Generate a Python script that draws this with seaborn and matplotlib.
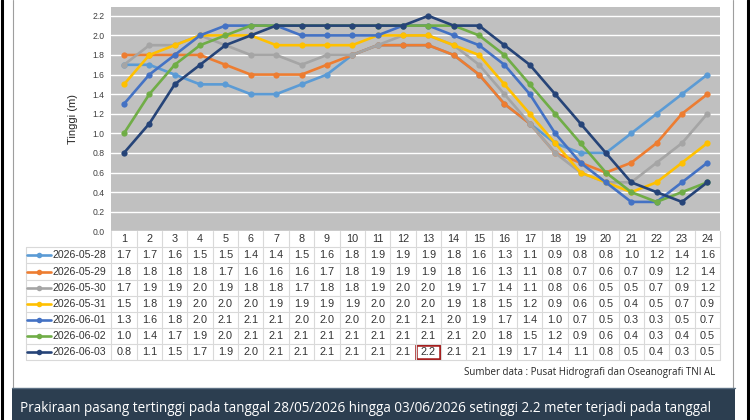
import matplotlib
matplotlib.use("Agg")
import matplotlib.pyplot as plt
from matplotlib.patches import Rectangle
from matplotlib.lines import Line2D
import numpy as np
import pandas as pd
import seaborn as sns

hours = list(range(1, 25))
dates = ["2026-05-28", "2026-05-29", "2026-05-30", "2026-05-31",
         "2026-06-01", "2026-06-02", "2026-06-03"]
d0528 = [1.7, 1.7, 1.6, 1.5, 1.5, 1.4, 1.4, 1.5, 1.6, 1.8, 1.9, 1.9, 1.9, 1.8, 1.6, 1.3, 1.1, 0.9, 0.8, 0.8, 1.0, 1.2, 1.4, 1.6]
d0529 = [1.8, 1.8, 1.8, 1.8, 1.7, 1.6, 1.6, 1.6, 1.7, 1.8, 1.9, 1.9, 1.9, 1.8, 1.6, 1.3, 1.1, 0.8, 0.7, 0.6, 0.7, 0.9, 1.2, 1.4]
d0530 = [1.7, 1.9, 1.9, 2.0, 1.9, 1.8, 1.8, 1.7, 1.8, 1.8, 1.9, 2.0, 2.0, 1.9, 1.7, 1.4, 1.1, 0.8, 0.6, 0.5, 0.5, 0.7, 0.9, 1.2]
d0531 = [1.5, 1.8, 1.9, 2.0, 2.0, 2.0, 1.9, 1.9, 1.9, 1.9, 2.0, 2.0, 2.0, 1.9, 1.8, 1.5, 1.2, 0.9, 0.6, 0.5, 0.4, 0.5, 0.7, 0.9]
d0601 = [1.3, 1.6, 1.8, 2.0, 2.1, 2.1, 2.1, 2.0, 2.0, 2.0, 2.0, 2.1, 2.1, 2.0, 1.9, 1.7, 1.4, 1.0, 0.7, 0.5, 0.3, 0.3, 0.5, 0.7]
d0602 = [1.0, 1.4, 1.7, 1.9, 2.0, 2.1, 2.1, 2.1, 2.1, 2.1, 2.1, 2.1, 2.1, 2.1, 2.0, 1.8, 1.5, 1.2, 0.9, 0.6, 0.4, 0.3, 0.4, 0.5]
d0603 = [0.8, 1.1, 1.5, 1.7, 1.9, 2.0, 2.1, 2.1, 2.1, 2.1, 2.1, 2.1, 2.2, 2.1, 2.1, 1.9, 1.7, 1.4, 1.1, 0.8, 0.5, 0.4, 0.3, 0.5]
series = [d0528, d0529, d0530, d0531, d0601, d0602, d0603]
colors = ["#5B9BD5", "#ED7D31", "#A5A5A5", "#FFC000", "#4472C4", "#70AD47", "#264478"]

source = "Sumber data : Pusat Hidrografi dan Oseanografi TNI AL"
caption = ("Prakiraan pasang tertinggi pada tanggal 28/05/2026 hingga 03/06/2026 "
           "setinggi 2.2 meter terjadi pada tanggal")

df = pd.DataFrame({
    "jam": hours * len(dates),
    "tinggi": [v for s in series for v in s],
    "tanggal": [d for d in dates for _ in hours],
})

sns.set_theme(style="white")
plt.rcParams["font.family"] = ["Liberation Sans", "DejaVu Sans"]

W, H = 750, 420
fig = plt.figure(figsize=(7.5, 4.2), dpi=100)
fig.patch.set_facecolor("white")

def box(x0, y0, x1, y1):
    # pixel box (top-left origin) -> figure fraction rect
    return [x0 / W, 1 - y1 / H, (x1 - x0) / W, (y1 - y0) / H]

# chart
ax = fig.add_axes(box(111.3, 7, 720, 231.3))
ax.set_facecolor("#C0C0C0")
sns.lineplot(data=df, x="jam", y="tinggi", hue="tanggal", palette=colors,
             marker="o", markersize=4.5, markeredgewidth=0, linewidth=1.9,
             legend=False, ax=ax)
ax.set_xlim(0.5, 24.5)
ax.set_ylim(0, 2.29)
ax.set_yticks(np.arange(0, 2.21, 0.2))
ax.set_yticklabels([f"{t:.1f}" for t in np.arange(0, 2.21, 0.2)])
ax.yaxis.grid(True, color="white", linewidth=1.0)
ax.set_axisbelow(True)
ax.set_xticks([])
ax.set_xlabel("")
ax.set_ylabel("Tinggi (m)", fontsize=8, color="#262626", labelpad=10)
ax.tick_params(axis="y", length=0, labelsize=6.2, labelcolor="#404040", pad=5)
for sp in ax.spines.values():
    sp.set_visible(False)

# data table under the chart
tab = fig.add_axes(box(111.3, 231.3, 720, 360))
tab.set_xlim(0.5, 24.5)
tab.set_ylim(8, 0)
tab.axis("off")
grid_c = "#D9D9D9"
px = (720 - 111.3) / 24
x_left = 0.5 - (111.3 - 26) / px
for k in range(25):
    tab.plot([0.5 + k, 0.5 + k], [0, 8], color=grid_c, lw=0.8, clip_on=False)
for r in range(1, 9):
    tab.plot([x_left, 24.5], [r, r], color=grid_c, lw=0.8, clip_on=False)
tab.plot([x_left, x_left], [1, 8], color=grid_c, lw=0.8, clip_on=False)
txt_c = "#333333"
for h in hours:
    tab.text(h, 0.5, str(h), ha="center", va="center", fontsize=7.8, color=txt_c)
for i, (d, s, c) in enumerate(zip(dates, series, colors)):
    y = i + 1.5
    for h, v in zip(hours, s):
        tab.text(h, y, f"{v:.1f}", ha="center", va="center", fontsize=7.8, color=txt_c)
    tab.add_line(Line2D([x_left + 0.05, x_left + 1.0], [y, y], color=c, lw=1.9, clip_on=False))
    tab.add_line(Line2D([x_left + 0.52], [y], color=c, marker="o", markersize=4,
                        markeredgewidth=0, clip_on=False))
    tab.text(x_left + 1.03, y, d, ha="left", va="center", fontsize=7.6, color=txt_c, clip_on=False)

# highlight the maximum
tab.add_patch(Rectangle((12.53, 7.08), 0.94, 0.86, fill=False, edgecolor="#A31515", lw=1.8, clip_on=False))

# frame lines
fig.add_artist(Line2D([2 / W, 2 / W], [0, 1], color="black", lw=2.2))
fig.add_artist(Line2D([13 / W, 13 / W], [1 - 388 / H, 1], color="#9E9E9E", lw=0.8))
fig.add_artist(Line2D([733 / W, 733 / W], [1 - 388 / H, 1], color="#9E9E9E", lw=0.8))
fig.add_artist(Line2D([748 / W, 748 / W], [0, 1], color="black", lw=2.2))

fig.text(715 / W, 1 - 372 / H, source, ha="right", va="center", fontsize=7,
         family=["Open Sans", "DejaVu Sans"], color="#262626")

# caption banner
fig.add_artist(Rectangle((12 / W, 0), (735 - 12) / W, (H - 388) / H,
                         transform=fig.transFigure, facecolor="#2C3E50", edgecolor="none"))
fig.add_artist(Line2D([12 / W, 735 / W], [1 - 388 / H, 1 - 388 / H], color="#5D7184", lw=1))
fig.text(20 / W, 1 - 409 / H, caption, ha="left", va="center", fontsize=9.75,
         family=["Open Sans", "DejaVu Sans"], color="white")

fig.savefig("out.png", dpi=100)
